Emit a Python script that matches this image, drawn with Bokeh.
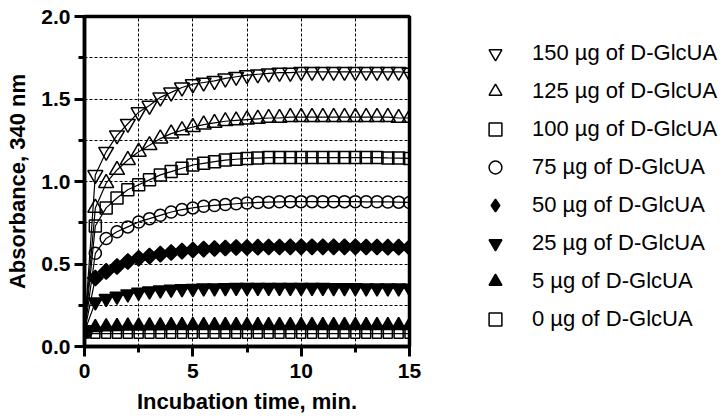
import math
from bokeh.plotting import figure
from bokeh.layouts import row
from bokeh.models import Legend, LegendItem, FixedTicker, NumeralTickFormatter, Range1d
from bokeh.embed import file_html
from bokeh.resources import INLINE

time_min = [0.0, 0.5, 1.0, 1.5, 2.0, 2.5, 3.0, 3.5, 4.0, 4.5, 5.0, 5.5, 6.0, 6.5, 7.0, 7.5,
            8.0, 8.5, 9.0, 9.5, 10.0, 10.5, 11.0, 11.5, 12.0, 12.5, 13.0, 13.5, 14.0, 14.5, 15.0]

labels = ["150 µg of D-GlcUA", "125 µg of D-GlcUA", "100 µg of D-GlcUA", "75 µg of D-GlcUA",
          "50 µg of D-GlcUA", "25 µg of D-GlcUA", "5 µg of D-GlcUA", "0 µg of D-GlcUA"]

abs_150 = [0.10, 1.04, 1.18, 1.28, 1.35, 1.42, 1.46, 1.51, 1.54, 1.57, 1.59, 1.60, 1.61, 1.625, 1.635, 1.645,
           1.65, 1.655, 1.66, 1.66, 1.665, 1.665, 1.665, 1.665, 1.665, 1.665, 1.665, 1.665, 1.665, 1.665, 1.66]
abs_125 = [0.10, 0.84, 0.99, 1.07, 1.13, 1.18, 1.22, 1.26, 1.29, 1.31, 1.33, 1.345, 1.355, 1.365, 1.37, 1.375,
           1.38, 1.385, 1.385, 1.39, 1.39, 1.39, 1.39, 1.39, 1.39, 1.39, 1.39, 1.39, 1.39, 1.385, 1.385]
abs_100 = [0.09, 0.73, 0.84, 0.90, 0.95, 0.98, 1.01, 1.04, 1.06, 1.08, 1.10, 1.11, 1.12, 1.13, 1.135, 1.14,
           1.142, 1.145, 1.145, 1.145, 1.145, 1.145, 1.145, 1.145, 1.145, 1.145, 1.145, 1.145, 1.143, 1.142, 1.14]
abs_75 = [0.09, 0.565, 0.655, 0.695, 0.725, 0.755, 0.775, 0.795, 0.815, 0.83, 0.84, 0.85, 0.855, 0.86, 0.865, 0.87,
          0.873, 0.875, 0.877, 0.878, 0.878, 0.878, 0.878, 0.878, 0.878, 0.878, 0.877, 0.877, 0.876, 0.875, 0.873]
abs_50 = [0.09, 0.415, 0.455, 0.485, 0.515, 0.535, 0.548, 0.56, 0.57, 0.578, 0.585, 0.59, 0.594, 0.597, 0.60, 0.60,
          0.602, 0.603, 0.603, 0.604, 0.604, 0.604, 0.604, 0.604, 0.604, 0.604, 0.603, 0.603, 0.602, 0.602, 0.60]
abs_25 = [0.09, 0.27, 0.29, 0.305, 0.318, 0.328, 0.336, 0.342, 0.346, 0.349, 0.352, 0.354, 0.355, 0.356, 0.357, 0.357,
          0.357, 0.357, 0.357, 0.357, 0.357, 0.357, 0.357, 0.356, 0.356, 0.356, 0.355, 0.355, 0.355, 0.354, 0.353]
abs_5 = [0.09, 0.115, 0.12, 0.122, 0.124, 0.125, 0.126, 0.126, 0.127, 0.127, 0.127, 0.127, 0.127, 0.127, 0.127, 0.127,
         0.127, 0.127, 0.127, 0.127, 0.127, 0.127, 0.127, 0.127, 0.127, 0.127, 0.127, 0.127, 0.127, 0.127, 0.127]
abs_0 = [0.08, 0.078, 0.078, 0.078, 0.078, 0.078, 0.078, 0.078, 0.078, 0.078, 0.078, 0.078, 0.078, 0.078, 0.078, 0.078,
         0.078, 0.078, 0.078, 0.078, 0.078, 0.078, 0.078, 0.078, 0.078, 0.078, 0.078, 0.078, 0.078, 0.078, 0.078]

series = [abs_150, abs_125, abs_100, abs_75, abs_50, abs_25, abs_5, abs_0]
markers = ["inverted_triangle", "triangle", "square", "circle", "square", "inverted_triangle", "triangle", "square"]
legend_markers = ["inverted_triangle", "triangle", "square", "circle", "diamond", "inverted_triangle", "triangle", "square"]
angles = [0, 0, 0, 0, math.pi / 4, 0, 0, 0]
filled = [False, False, False, False, True, True, True, False]
sizes = [15, 15, 12, 12, 11, 14, 14, 9]

x_ticks = [0, 5, 10, 15]
x_minor = [2.5, 7.5, 12.5]
y_ticks = [0.0, 0.5, 1.0, 1.5, 2.0]
y_minor = [0.25, 0.75, 1.25, 1.75]

FONT = "Liberation Sans"

p = figure(width=425, height=416, x_range=Range1d(0, 15), y_range=Range1d(0, 2),
           output_backend="svg", toolbar_location=None,
           min_border_left=84, min_border_right=16, min_border_top=16, min_border_bottom=69)

p.background_fill_color = "white"
p.border_fill_color = "white"
p.outline_line_color = "black"
p.outline_line_width = 3.5

p.xaxis.ticker = FixedTicker(ticks=x_ticks, minor_ticks=x_minor)
p.yaxis.ticker = FixedTicker(ticks=y_ticks, minor_ticks=y_minor)
p.yaxis.formatter = NumeralTickFormatter(format="0.0")

for ax in (p.xaxis, p.yaxis):
    ax.axis_line_width = 3.5
    ax.axis_line_color = "black"
    ax.major_tick_line_width = 3
    ax.minor_tick_line_width = 3
    ax.major_tick_in = 0
    ax.minor_tick_in = 0
    ax.major_tick_out = 10
    ax.minor_tick_out = 6
    ax.major_label_text_font = FONT
    ax.major_label_text_font_style = "bold"
    ax.major_label_text_font_size = "21px"
    ax.major_label_text_color = "black"
    ax.axis_label_text_font = FONT
    ax.axis_label_text_font_style = "bold"
    ax.axis_label_text_font_size = "22px"
    ax.axis_label_text_color = "black"

p.xaxis.axis_label = "Incubation time, min."
p.yaxis.axis_label = "Absorbance, 340 nm"
p.xaxis.major_label_standoff = 7
p.xaxis.axis_label_standoff = 8
p.yaxis.major_label_standoff = 4
p.yaxis.axis_label_standoff = 8

for g in (p.xgrid, p.ygrid):
    g.grid_line_color = "black"
    g.grid_line_width = 1
    g.grid_line_dash = "3 2"
    g.minor_grid_line_color = "black"
    g.minor_grid_line_width = 1
    g.minor_grid_line_dash = "3 2"

# legend panel: a separate figure without axes; its copies of the series lie outside its view
pl = figure(width=300, height=416, x_range=Range1d(100, 101), y_range=Range1d(100, 101),
            output_backend="svg", toolbar_location=None, x_axis_type=None, y_axis_type=None,
            min_border_left=0, min_border_right=0, min_border_top=0, min_border_bottom=0)
pl.outline_line_color = None
pl.background_fill_color = "white"
pl.border_fill_color = "white"
pl.xgrid.visible = False
pl.ygrid.visible = False

items = []
for vals, mk, lmk, ang, fl, sz, lab in zip(series, markers, legend_markers, angles, filled, sizes, labels):
    p.line(time_min, vals, line_color="black", line_width=1.2)
    common = dict(line_color="black", line_width=1.5,
                  fill_color="black" if fl else None, fill_alpha=1.0 if fl else 0.0)
    p.scatter(time_min, vals, size=sz, marker=mk, angle=ang, **common)
    r = pl.scatter(time_min, vals, size=sz, marker=lmk, **common)
    items.append(LegendItem(label=lab, renderers=[r]))

legend = Legend(items=items, location=(54, 11), orientation="vertical",
                glyph_width=32, glyph_height=32, label_height=32, spacing=6,
                label_standoff=21, padding=0, margin=0,
                border_line_alpha=0, background_fill_alpha=0,
                label_text_font=FONT, label_text_font_size="22px", label_text_color="black")
pl.add_layout(legend)

layout = row(p, pl)
open("out.html", "w").write(file_html(layout, INLINE))
